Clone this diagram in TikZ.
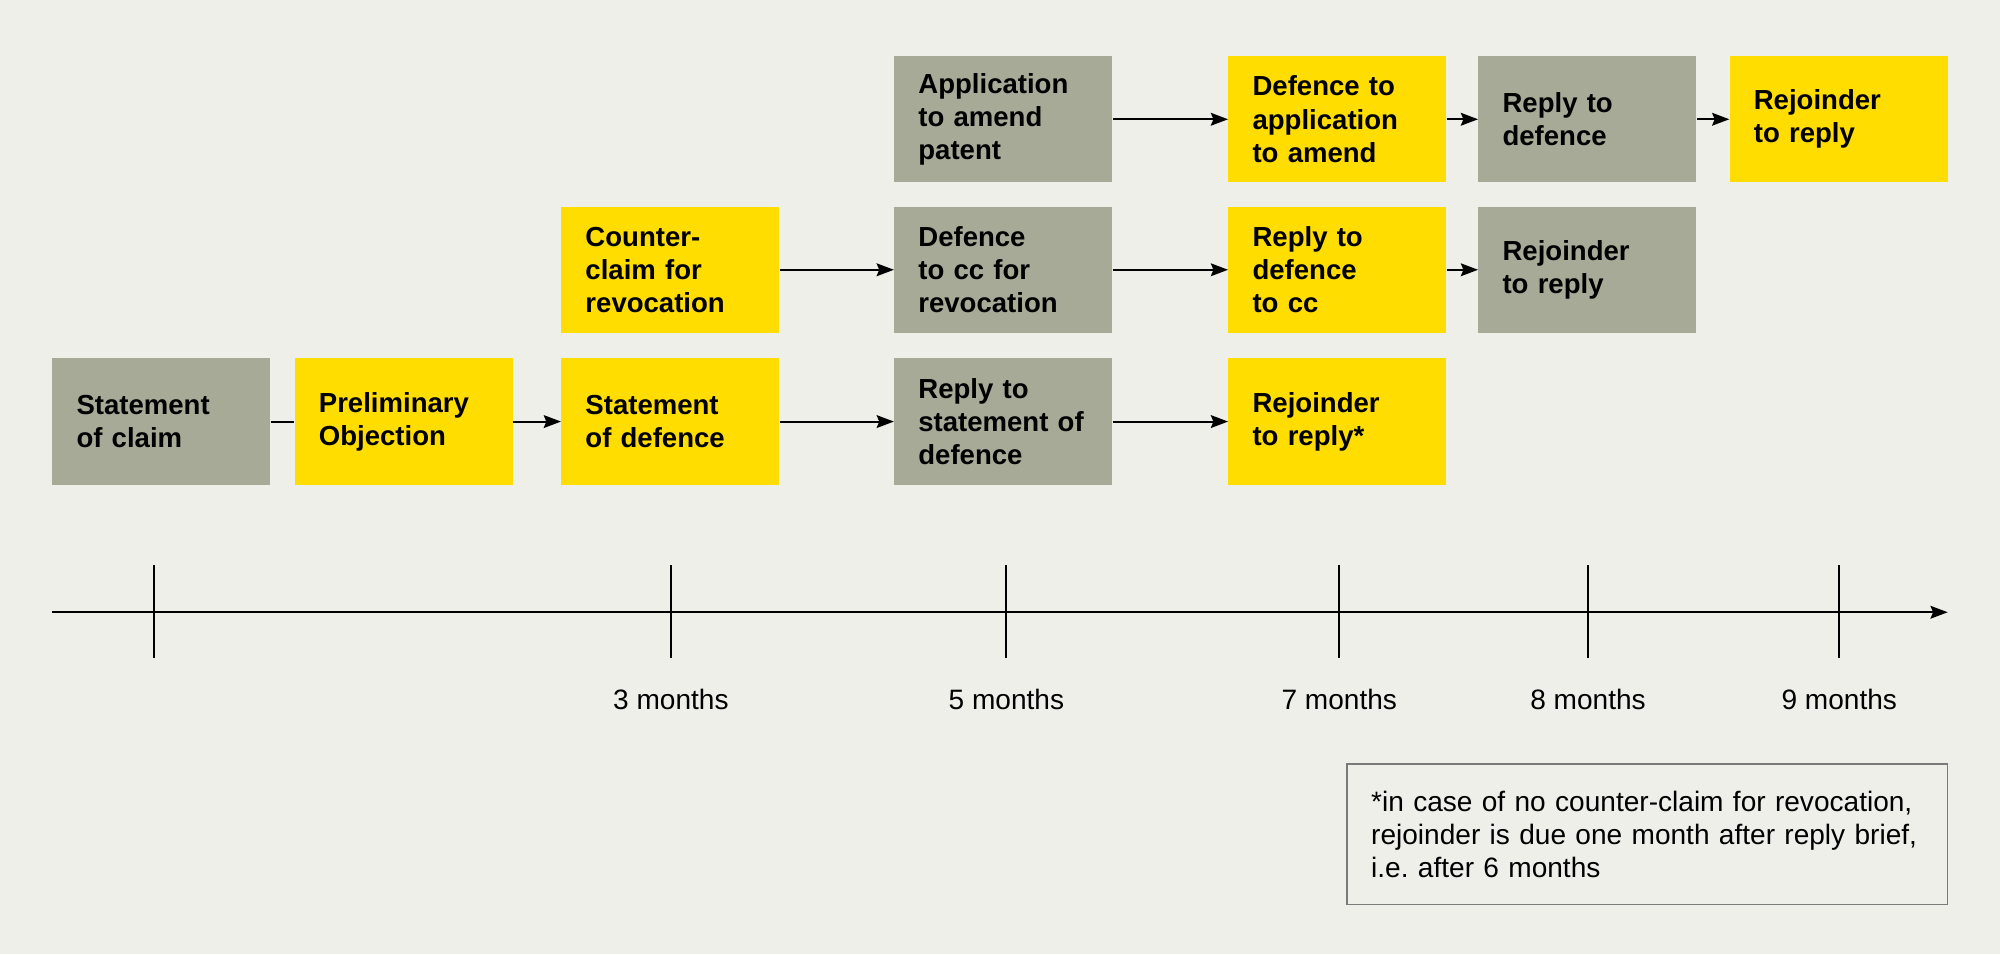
\documentclass[tikz,border=0pt]{standalone}
\usepackage{fontspec}
\setmainfont{Liberation Sans}
\usetikzlibrary{arrows.meta}
\definecolor{bg}{HTML}{EFEFEA}
\definecolor{upcgrey}{HTML}{A8AA98}
\definecolor{upcyellow}{HTML}{FFDD00}
\definecolor{notegrey}{HTML}{7A7A7A}

\begin{document}
\begin{tikzpicture}[x=1pt,y=-1pt,>={Stealth[length=13.5pt,width=10pt,inset=2pt]},
brief/.style={rectangle,minimum width=171pt,minimum height=99pt,text width=133pt,inner xsep=19pt,inner ysep=0pt,align=left,font=\bfseries\fontsize{21.6}{26}\selectfont,text=black},
claimant/.style={brief,fill=upcgrey},
defendant/.style={brief,fill=upcyellow},
month/.style={font=\fontsize{22}{26}\selectfont}]
\fill[bg] (0,0) rectangle (1568,748);
% main action
\node[claimant](soc) at (126.5,330.5){Statement\\of claim};
\node[defendant](po) at (316.5,330.5){Preliminary\\Objection};
\node[defendant](sod) at (525.5,330.5){Statement\\of defence};
\node[claimant](rsod) at (786.5,330.5){Reply to\\statement of\\defence};
\node[defendant](rjsod) at (1048.5,330.5){Rejoinder\\to reply*};
% counterclaim
\node[defendant](cc) at (525.5,211.5){Counter-\\claim for\\revocation};
\node[claimant](dcc) at (786.5,211.5){Defence\\to cc for\\revocation};
\node[defendant](rdcc) at (1048.5,211.5){Reply to\\defence\\to cc};
\node[claimant](rjcc) at (1244.5,211.5){Rejoinder\\to reply};
% amendment
\node[claimant](app) at (786.5,93.5){Application\\to amend\\patent};
\node[defendant](dapp) at (1048.5,93.5){Defence to\\application\\to amend};
\node[claimant](rapp) at (1244.5,93.5){Reply to\\defence};
\node[defendant](rjapp) at (1441.5,93.5){Rejoinder\\to reply};
\begin{scope}[->, line width=1.6pt]
 \draw[-] (soc)--(po);
 \draw (po)--(sod);
 \draw (sod)--(rsod);
 \draw (rsod)--(rjsod);
 \draw (cc)--(dcc);
 \draw (dcc)--(rdcc);
 \draw (rdcc)--(rjcc);
 \draw (app)--(dapp);
 \draw (dapp)--(rapp);
 \draw (rapp)--(rjapp);
\end{scope}
% time axis
\coordinate(t0) at (41,480);
\coordinate(t1) at (1527,480);
\draw[->, line width=1.6pt] (t0)--(t1);
\draw[line width=1.6pt] (121,443)--(121,516);
\foreach \x/\m in {526/3,789/5,1050/7,1245/8,1442/9}{
 \draw[line width=1.6pt] (\x,443)--(\x,516);
 \node[month](m\m) at (\x,548){\m\ months};
}
\node[draw=notegrey, line width=1pt, minimum width=471pt, minimum height=110pt, text width=433pt, inner xsep=19pt, align=left, font=\fontsize{22}{26}\selectfont](note) at (1291.5,654){*in case of no counter-claim for revocation,\\rejoinder is due one month after reply brief,\\i.e.\ after 6 months};
\end{tikzpicture}
\end{document}
